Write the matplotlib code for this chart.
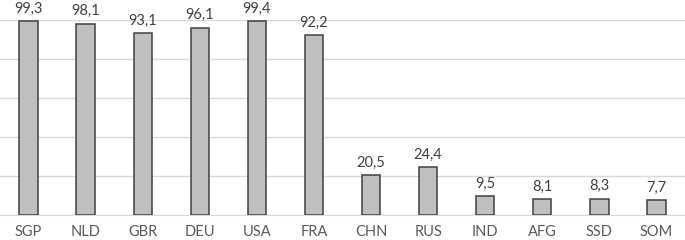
import matplotlib
matplotlib.use("Agg")
import matplotlib.pyplot as plt

categories = ["SGP", "NLD", "GBR", "DEU", "USA", "FRA", "CHN", "RUS", "IND", "AFG", "SSD", "SOM"]
values = [99.3, 98.1, 93.1, 96.1, 99.4, 92.2, 20.5, 24.4, 9.5, 8.1, 8.3, 7.7]

plt.rcParams['font.family'] = ['Lato', 'DejaVu Sans']

fig = plt.figure(figsize=(6.85, 2.4), dpi=100)
ax = fig.add_axes([0.0, 25/240, 1.0, 195/240])

x = range(len(categories))
ax.bar(x, values, width=0.32, color="#bfbfbf", edgecolor="#404040", linewidth=1.1, zorder=3)
ax.set_xlim(-0.5, len(categories) - 0.5)
ax.set_ylim(0, 100)
ax.set_yticks([0, 20, 40, 60, 80, 100])
ax.yaxis.grid(True, color="#d9d9d9", linewidth=1.0, zorder=0)
ax.set_yticklabels([])
ax.tick_params(axis="y", length=0)
ax.set_xticks(list(x))
ax.set_xticklabels(categories, fontsize=10.5, color="#595959")
ax.tick_params(axis="x", length=0, pad=7)
for s in ["top", "right", "left"]:
    ax.spines[s].set_visible(False)
ax.spines["bottom"].set_color("#d9d9d9")

for xi, v in zip(x, values):
    ax.annotate(f"{v:.1f}".replace(".", ","), (xi, v), xytext=(0, 4), textcoords="offset points",
                ha="center", va="bottom", fontsize=10.5, color="#404040", annotation_clip=False)

fig.savefig("out.png", dpi=100)
